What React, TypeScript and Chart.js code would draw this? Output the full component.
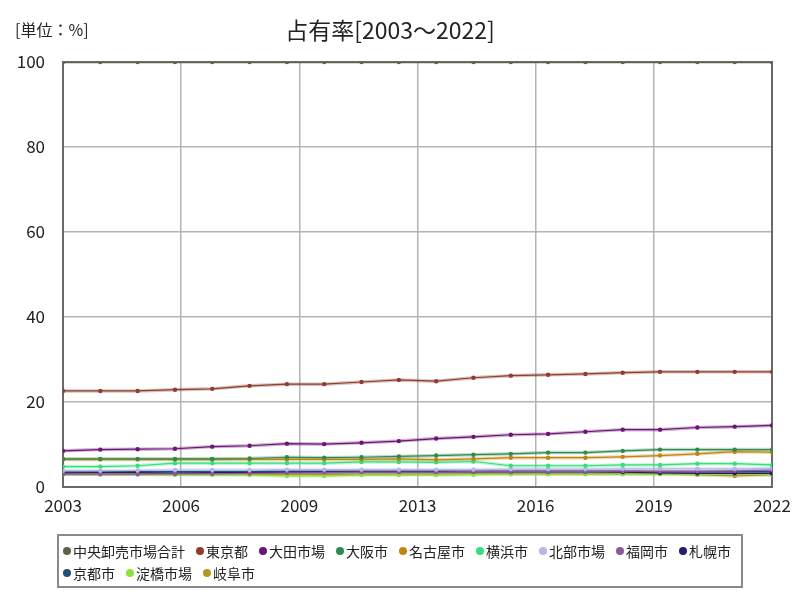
import React, { useEffect, useRef } from "react";
import { Chart, registerables } from "chart.js";

Chart.register(...registerables);

const years = [2003,2004,2005,2006,2007,2008,2009,2010,2011,2012,2013,2014,2015,2016,2017,2018,2019,2020,2021,2022];
const xTickLabels = ["2003","2006","2009","2013","2016","2019","2022"];
const seriesNames = ["中央卸売市場合計","東京都","大田市場","大阪市","名古屋市","横浜市","北部市場","福岡市","札幌市","京都市","淀橋市場","岐阜市"];
const total = [100,100,100,100,100,100,100,100,100,100,100,100,100,100,100,100,100,100,100,100];
const tokyo = [22.6,22.6,22.6,22.9,23.1,23.8,24.2,24.2,24.7,25.2,24.9,25.7,26.2,26.4,26.6,26.9,27.1,27.1,27.1,27.1];
const ota = [8.5,8.8,8.9,9.0,9.5,9.7,10.2,10.1,10.4,10.8,11.4,11.8,12.3,12.5,13.0,13.5,13.5,14.0,14.2,14.5];
const osaka = [6.6,6.6,6.6,6.6,6.6,6.7,7.0,6.9,7.0,7.2,7.4,7.6,7.8,8.1,8.1,8.5,8.8,8.8,8.8,8.8];
const nagoya = [6.5,6.5,6.5,6.5,6.5,6.5,6.5,6.5,6.5,6.6,6.4,6.6,6.9,6.9,6.9,7.1,7.4,7.8,8.3,8.2];
const yokohama = [4.8,4.8,5.0,5.6,5.6,5.6,5.6,5.6,5.9,5.9,5.8,6.0,5.0,5.0,5.0,5.2,5.2,5.5,5.5,5.2];
const hokubu = [3.8,3.8,3.9,4.0,4.0,4.0,4.1,4.1,4.1,4.1,4.1,4.1,4.2,4.2,4.2,4.3,4.3,4.3,4.3,4.4];
const fukuoka = [3.0,3.0,3.0,3.1,3.1,3.2,3.3,3.4,3.5,3.5,3.5,3.6,3.6,3.6,3.6,3.7,3.7,3.7,3.8,4.0];
const sapporo = [3.3,3.4,3.4,3.2,3.4,3.4,3.5,3.5,3.6,3.6,3.6,3.6,3.6,3.6,3.6,3.5,3.3,3.2,3.2,3.2];
const kyoto = [3.6,3.6,3.6,3.6,3.6,3.6,3.7,3.7,3.7,3.7,3.7,3.7,3.7,3.7,3.7,3.7,3.6,3.6,3.6,3.6];
const yodobashi = [3.0,3.0,3.0,2.9,2.9,2.8,2.6,2.6,2.8,2.8,2.8,2.9,3.0,3.0,3.0,3.0,3.0,3.0,3.0,3.0];
const gifu = [3.1,3.1,3.1,3.0,3.0,3.0,2.9,2.9,3.0,3.0,3.0,3.1,3.1,3.1,3.1,3.1,3.1,2.9,2.6,2.9];
const seriesValues = [total, tokyo, ota, osaka, nagoya, yokohama, hokubu, fukuoka, sapporo, kyoto, yodobashi, gifu];
const seriesColors = ["#606048","#8e3e2e","#6c1476","#2e8b50","#c08412","#34e078","#b8b6e8","#8a5a9a","#2a1a6e","#1f5078","#90e040","#b09a20"];

const FONT = "'Noto Sans CJK JP', 'Noto Sans', sans-serif";

function hexA(hex: string, a: number) {
  const n = parseInt(hex.slice(1), 16);
  return `rgba(${(n >> 16) & 255},${(n >> 8) & 255},${n & 255},${a})`;
}

export default function App() {
  const ref = useRef<HTMLCanvasElement>(null);
  useEffect(() => {
    if (!ref.current) return;
    const main = seriesNames.map((name, i) => ({
      label: name,
      data: years.map((y, j) => ({ x: y, y: seriesValues[i][j] })),
      borderColor: seriesColors[i],
      backgroundColor: seriesColors[i],
      borderWidth: 1.2,
      pointRadius: 2.2,
      pointHoverRadius: 2.2,
      pointBorderWidth: 0,
      tension: 0,
      order: 0,
    }));
    const halos = seriesNames.map((name, i) => ({
      label: name + "_halo",
      data: years.map((y, j) => ({ x: y, y: seriesValues[i][j] })),
      borderColor: hexA(seriesColors[i], 0.32),
      backgroundColor: "transparent",
      borderWidth: 3.5,
      pointRadius: 0,
      tension: 0,
      order: 1,
    }));
    const frame = {
      id: "frame",
      beforeDatasetsDraw(chart: any) {
        const { ctx, chartArea: a } = chart;
        ctx.save();
        ctx.strokeStyle = "#6a6a6a";
        ctx.lineWidth = 2;
        ctx.strokeRect(a.left, a.top, a.right - a.left, a.bottom - a.top);
        ctx.restore();
      },
      afterDraw(chart: any) {
        const { ctx } = chart;
        ctx.save();
        ctx.font = `16px ${FONT}`;
        ctx.fillStyle = "#222";
        ctx.textBaseline = "middle";
        ctx.textAlign = "left";
        ctx.fillText("[単位：%]", 15, 30);
        ctx.restore();
      },
    };
    const chart = new Chart(ref.current, {
      type: "line",
      data: { datasets: [...main, ...halos] as any },
      options: {
        animation: false,
        responsive: false,
        events: [],
        layout: { padding: { left: 8, right: 28, top: 0, bottom: 83 } },
        plugins: {
          legend: { display: false },
          tooltip: { enabled: false },
          title: {
            display: true,
            text: "占有率[2003～2022]",
            color: "#222",
            font: { family: FONT, size: 23, weight: "normal" as any, lineHeight: 1.2 },
            padding: { top: 16, bottom: 18.4 },
          },
        },
        scales: {
          x: {
            type: "linear",
            min: 2003,
            max: 2022,
            afterBuildTicks: (scale: any) => {
              scale.ticks = xTickLabels.map((_, k) => ({ value: 2003 + (19 * k) / 6 }));
            },
            afterFit: (scale: any) => { scale.height = 30; },
            ticks: {
              autoSkip: false,
              maxRotation: 0,
              padding: 8,
              color: "#222",
              font: { family: FONT, size: 17 },
              callback: (_v: any, i: number) => xTickLabels[i],
            },
            grid: { color: "#b4b4b4", lineWidth: 1.5, drawTicks: false },
            border: { display: false },
          },
          y: {
            min: 0,
            max: 100,
            afterFit: (scale: any) => { scale.width = 55; },
            ticks: {
              stepSize: 20,
              padding: 18,
              color: "#222",
              font: { family: FONT, size: 17 },
            },
            grid: { color: "#b4b4b4", lineWidth: 1.5, drawTicks: false },
            border: { display: false },
          },
        },
      } as any,
      plugins: [frame],
    });
    return () => chart.destroy();
  }, []);

  return (
    <div style={{ position: "fixed", left: 0, top: 0, width: 800, height: 600, background: "#fff" }}>
      <canvas ref={ref} width={800} height={600} style={{ position: "absolute", left: 0, top: 0 }} />
      <div
        style={{
          position: "absolute",
          left: 57,
          top: 534,
          width: 686,
          height: 54,
          boxSizing: "border-box",
          border: "2px solid #8a8a8a",
          padding: "4px 2px 0 4px",
          display: "flex",
          flexWrap: "wrap",
          alignContent: "flex-start",
          columnGap: 11,
          fontFamily: FONT,
          fontSize: 14,
          color: "#222",
          lineHeight: "22px",
        }}
      >
        {seriesNames.map((n, i) => (
          <div key={n} style={{ display: "flex", alignItems: "center", height: 22, whiteSpace: "nowrap" }}>
            <span
              style={{
                display: "inline-block",
                width: 8,
                height: 8,
                borderRadius: 4,
                background: seriesColors[i],
                marginRight: 2,
              }}
            />
            <span>{n}</span>
          </div>
        ))}
      </div>
    </div>
  );
}
